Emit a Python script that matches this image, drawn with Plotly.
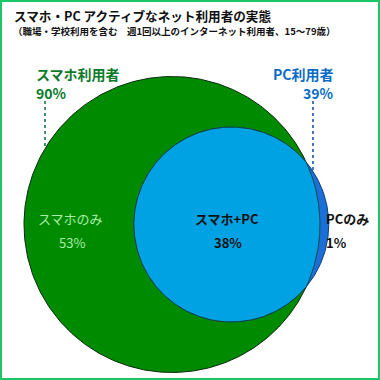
import numpy as np
import plotly.graph_objects as go

# ---- data ----
title = "スマホ・PC アクティブなネット利用者の実態"
subtitle = "（職場・学校利用を含む　週1回以上のインターネット利用者、15～79歳）"
set_names = ["スマホ利用者", "PC利用者"]
set_values = [90, 39]            # % of users
region_names = ["スマホのみ", "スマホ+PC", "PCのみ"]
region_values = [53, 38, 1]      # %

# ---- geometry derived from data (area proportional) ----
R_GREEN_PX = 148.0
k = R_GREEN_PX / np.sqrt(set_values[0])
r1 = k * np.sqrt(set_values[0])
r2 = k * np.sqrt(set_values[1])
target = np.pi * k * k * region_values[1]

def lens_area(d, r1, r2):
    if d >= r1 + r2:
        return 0.0
    if d <= abs(r1 - r2):
        return np.pi * min(r1, r2) ** 2
    a1 = r1 * r1 * np.arccos((d * d + r1 * r1 - r2 * r2) / (2 * d * r1))
    a2 = r2 * r2 * np.arccos((d * d + r2 * r2 - r1 * r1) / (2 * d * r2))
    a3 = 0.5 * np.sqrt((-d + r1 + r2) * (d + r1 - r2) * (d - r1 + r2) * (d + r1 + r2))
    return a1 + a2 - a3

lo, hi = abs(r1 - r2) + 1e-6, r1 + r2
for _ in range(100):
    mid = (lo + hi) / 2
    if lens_area(mid, r1, r2) > target:
        lo = mid
    else:
        hi = mid
d = (lo + hi) / 2

cx1, cy = 172.0, 224.5
cx2 = cx1 + d

a = (d * d + r1 * r1 - r2 * r2) / (2 * d)
h = np.sqrt(r1 * r1 - a * a)
th0 = np.arctan2(h, a - d)
ph0 = np.arctan2(h, a)

def circ(cx, cy, r, t0=0, t1=2 * np.pi, n=400):
    t = np.linspace(t0, t1, n)
    return cx + r * np.cos(t), cy + r * np.sin(t)

gx, gy = circ(cx1, cy, r1)
bx, by = circ(cx2, cy, r2)
lx1, ly1 = circ(cx2, cy, r2, th0, 2 * np.pi - th0)
lx2, ly2 = circ(cx1, cy, r1, -ph0, ph0)
lx = np.concatenate([lx1, lx2])
ly = np.concatenate([ly1, ly2])

GREEN = "#008a00"
DARKBLUE = "#1b6fd6"
LIGHTBLUE = "#00a2e3"
EDGE = "#0d2a10"

fig = go.Figure()
fig.add_trace(go.Scatter(x=gx, y=gy, fill="toself", fillcolor=GREEN, mode="lines",
                         line=dict(color=EDGE, width=1), hoverinfo="skip"))
fig.add_trace(go.Scatter(x=bx, y=by, fill="toself", fillcolor=DARKBLUE, mode="lines",
                         line=dict(color="#0c3c80", width=1), hoverinfo="skip"))
fig.add_trace(go.Scatter(x=lx, y=ly, fill="toself", fillcolor=LIGHTBLUE, mode="lines",
                         line=dict(color="#0a3a30", width=0.8), hoverinfo="skip"))

# leader lines
gxl = 45.0
gy_end = cy - np.sqrt(r1 * r1 - (gxl - cx1) ** 2)
bxl = 313.0
by_end = cy - np.sqrt(r2 * r2 - (bxl - cx2) ** 2)
shapes = [
    dict(type="line", x0=gxl, x1=gxl, y0=101, y1=gy_end, line=dict(color="#0a6a3a", width=1.5, dash="dot")),
    dict(type="line", x0=bxl, x1=bxl, y0=101, y1=by_end, line=dict(color="#0a4a9a", width=1.5, dash="dot")),
    dict(type="rect", x0=1, x1=379, y0=1, y1=379,
         line=dict(color="#19c864", width=2)),
]

F = "Noto Sans CJK JP"
ann = []
def A(x, y, text, size, color, xanchor="center", bold=False):
    t = f"<b>{text}</b>" if bold else text
    ann.append(dict(x=x, y=y, text=t, showarrow=False, xanchor=xanchor, yanchor="middle",
                    font=dict(family=F, size=size, color=color)))

A(12, 15, title, 12.6, "#111111", "left", True)
A(11, 31, subtitle, 9.5, "#111111", "left", True)
A(34, 74, set_names[0], 14, "#0a7a2a", "left", True)
A(34, 93, f"{set_values[0]}%", 14, "#0a7a2a", "left", True)
A(336, 74, set_names[1], 14, "#0a6cc4", "right", True)
A(336, 93, f"{set_values[1]}%", 14, "#0a6cc4", "right", True)
A(70, 218, region_names[0], 13, "#a8f0a8", "center")
A(72, 242, f"{region_values[0]}%", 13, "#a8f0a8", "center")
A(227, 218, region_names[1], 13, "#111111", "center", True)
A(228, 242, f"{region_values[1]}%", 13, "#111111", "center", True)
A(324, 218, region_names[2], 13, "#111111", "left", True)
A(324, 242, f"{region_values[2]}%", 13, "#111111", "left", True)

fig.update_layout(
    width=380, height=380, margin=dict(l=0, r=0, t=0, b=0),
    paper_bgcolor="white", plot_bgcolor="white", showlegend=False,
    xaxis=dict(range=[0, 380], visible=False, fixedrange=True),
    yaxis=dict(range=[380, 0], visible=False, fixedrange=True),
    shapes=shapes, annotations=ann,
)
fig.write_html("out.html", config={"displayModeBar": False},
               post_script="document.body.style.margin='0';document.body.style.overflow='hidden';")
